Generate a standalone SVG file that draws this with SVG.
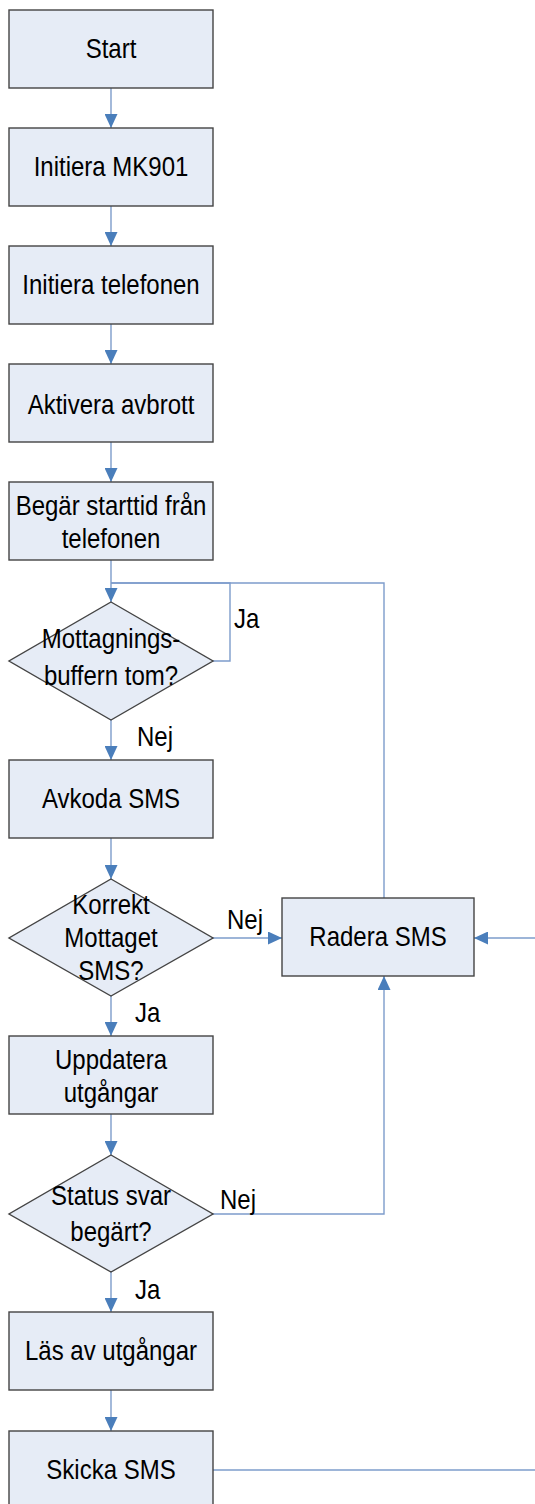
<svg xmlns="http://www.w3.org/2000/svg" width="535" height="1504" viewBox="0 0 535 1504">
  <style>
    .box { fill: #e6ecf6; stroke: #444; stroke-width: 1.4; }
    .txt { font-family: "Liberation Sans", Arial, sans-serif; font-size: 24px; fill: #000; text-anchor: middle; }
    .lbl { font-family: "Liberation Sans", Arial, sans-serif; font-size: 24px; fill: #000; }
    .flow { fill: none; stroke: #7d9ccb; stroke-width: 1.4; }
  </style>
  <defs>
    <marker id="arrow" viewBox="0 0 14 13" refX="14" refY="6.5" markerWidth="14" markerHeight="13" markerUnits="userSpaceOnUse" orient="auto">
      <path d="M0,0 L14,6.5 L0,13 Z" fill="#4a7ebb"/>
    </marker>
  </defs>
  <rect width="535" height="1504" fill="#fff"/>

  <g id="connectors">
    <line class="flow" x1="111" y1="88" x2="111" y2="128" marker-end="url(#arrow)"/>
    <line class="flow" x1="111" y1="206" x2="111" y2="246" marker-end="url(#arrow)"/>
    <line class="flow" x1="111" y1="324" x2="111" y2="364" marker-end="url(#arrow)"/>
    <line class="flow" x1="111" y1="442" x2="111" y2="482" marker-end="url(#arrow)"/>
    <line class="flow" x1="111" y1="560" x2="111" y2="602" marker-end="url(#arrow)"/>
    <polyline class="flow" points="213,661 230,661 230,583 111,583"/>
    <polyline class="flow" points="384,898 384,583 111,583"/>
    <line class="flow" x1="111" y1="720" x2="111" y2="760" marker-end="url(#arrow)"/>
    <line class="flow" x1="111" y1="838" x2="111" y2="879" marker-end="url(#arrow)"/>
    <line class="flow" x1="213" y1="938" x2="282" y2="938" marker-end="url(#arrow)"/>
    <line class="flow" x1="111" y1="996" x2="111" y2="1036" marker-end="url(#arrow)"/>
    <line class="flow" x1="111" y1="1114" x2="111" y2="1155" marker-end="url(#arrow)"/>
    <polyline class="flow" points="213,1214 384,1214 384,976" marker-end="url(#arrow)"/>
    <line class="flow" x1="111" y1="1272" x2="111" y2="1312" marker-end="url(#arrow)"/>
    <line class="flow" x1="111" y1="1390" x2="111" y2="1431" marker-end="url(#arrow)"/>
    <line class="flow" x1="213" y1="1470" x2="535" y2="1470"/>
    <line class="flow" x1="535" y1="938" x2="474" y2="938" marker-end="url(#arrow)"/>
    <text class="lbl" transform="translate(234,628) scale(1,1.13)">Ja</text>
    <text class="lbl" transform="translate(137,746) scale(1,1.13)">Nej</text>
    <text class="lbl" transform="translate(227,929) scale(1,1.13)">Nej</text>
    <text class="lbl" transform="translate(135,1022) scale(1,1.13)">Ja</text>
    <text class="lbl" transform="translate(220,1209) scale(1,1.13)">Nej</text>
    <text class="lbl" transform="translate(135,1299) scale(1,1.13)">Ja</text>
  </g>

  <g id="start">
    <rect class="box" x="9" y="10" width="204" height="78"/>
    <text class="txt" transform="translate(111,58) scale(1,1.13)">Start</text>
  </g>
  <g id="init-mk901">
    <rect class="box" x="9" y="128" width="204" height="78"/>
    <text class="txt" transform="translate(111,176) scale(1,1.13)">Initiera MK901</text>
  </g>
  <g id="init-phone">
    <rect class="box" x="9" y="246" width="204" height="78"/>
    <text class="txt" transform="translate(111,294) scale(1,1.13)">Initiera telefonen</text>
  </g>
  <g id="enable-irq">
    <rect class="box" x="9" y="364" width="204" height="78"/>
    <text class="txt" transform="translate(111,414) scale(1,1.13)">Aktivera avbrott</text>
  </g>
  <g id="request-time">
    <rect class="box" x="9" y="482" width="204" height="78"/>
    <text class="txt" transform="translate(111,515) scale(1,1.13)">Begär starttid från</text>
    <text class="txt" transform="translate(111,548) scale(1,1.13)">telefonen</text>
  </g>
  <g id="buffer-empty">
    <polygon class="box" points="111,602 213,661 111,720 9,661"/>
    <text class="txt" transform="translate(111,648) scale(1,1.13)">Mottagnings-</text>
    <text class="txt" transform="translate(111,685) scale(1,1.13)">buffern tom?</text>
  </g>
  <g id="decode-sms">
    <rect class="box" x="9" y="760" width="204" height="78"/>
    <text class="txt" transform="translate(111,808) scale(1,1.13)">Avkoda SMS</text>
  </g>
  <g id="sms-valid">
    <polygon class="box" points="111,879 213,938 111,996 9,938"/>
    <text class="txt" transform="translate(111,914) scale(1,1.13)">Korrekt</text>
    <text class="txt" transform="translate(111,947) scale(1,1.13)">Mottaget</text>
    <text class="txt" transform="translate(111,980) scale(1,1.13)">SMS?</text>
  </g>
  <g id="delete-sms">
    <rect class="box" x="282" y="898" width="192" height="78"/>
    <text class="txt" transform="translate(378,946) scale(1,1.13)">Radera SMS</text>
  </g>
  <g id="update-outputs">
    <rect class="box" x="9" y="1036" width="204" height="78"/>
    <text class="txt" transform="translate(111,1069) scale(1,1.13)">Uppdatera</text>
    <text class="txt" transform="translate(111,1102) scale(1,1.13)">utgångar</text>
  </g>
  <g id="status-requested">
    <polygon class="box" points="111,1155 213,1214 111,1272 9,1214"/>
    <text class="txt" transform="translate(111,1205) scale(1,1.13)">Status svar</text>
    <text class="txt" transform="translate(111,1241) scale(1,1.13)">begärt?</text>
  </g>
  <g id="read-outputs">
    <rect class="box" x="9" y="1312" width="204" height="78"/>
    <text class="txt" transform="translate(111,1360) scale(1,1.13)">Läs av utgångar</text>
  </g>
  <g id="send-sms">
    <rect class="box" x="9" y="1431" width="204" height="90"/>
    <text class="txt" transform="translate(111,1479) scale(1,1.13)">Skicka SMS</text>
  </g>
</svg>
